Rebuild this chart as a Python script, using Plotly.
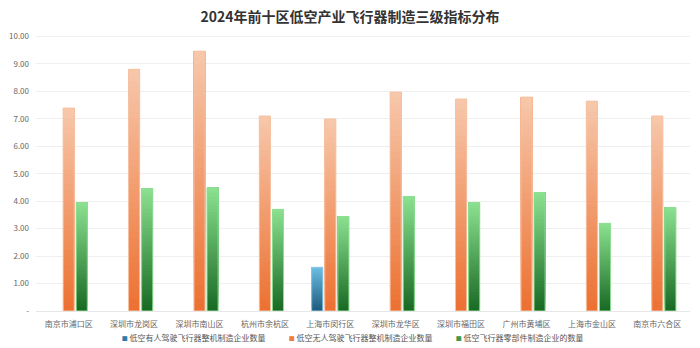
import plotly.graph_objects as go

categories = ["南京市浦口区", "深圳市龙岗区", "深圳市南山区", "杭州市余杭区", "上海市闵行区",
              "深圳市龙华区", "深圳市福田区", "广州市黄埔区", "上海市金山区", "南京市六合区"]
manned = [0, 0, 0, 0, 1.59, 0, 0, 0, 0, 0]
unmanned = [7.39, 8.80, 9.46, 7.10, 6.99, 7.97, 7.72, 7.79, 7.64, 7.10]
parts = [3.95, 4.46, 4.49, 3.70, 3.44, 4.17, 3.95, 4.31, 3.19, 3.77]
series_names = ["低空有人驾驶飞行器整机制造企业数量", "低空无人驾驶飞行器整机制造企业数量", "低空飞行器零部件制造企业的数量"]
y_ticks = [0, 1, 2, 3, 4, 5, 6, 7, 8, 9, 10]
y_ticktext = ["-", "1.00", "2.00", "3.00", "4.00", "5.00", "6.00", "7.00", "8.00", "9.00", "10.00"]

styles = [
    ((28, 90, 125), (110, 190, 228), "#2e7da8", "#8cc9e8"),
    ((236, 112, 48), (247, 200, 172), "#ee7d40", "#f7c2a4"),
    ((24, 104, 34), (140, 226, 145), "#3f9a4a", "#8fdf94"),
]

N = 40
fig = go.Figure()

def mix(a, b, t):
    return "rgb(%d,%d,%d)" % tuple(round(a[i] + (b[i] - a[i]) * t) for i in range(3))

for s, (vals, name, st) in enumerate(zip([manned, unmanned, parts], series_names, styles)):
    bottom, top, legend_col, line_col = st
    for k in range(N):
        t = (k + 0.5) / N
        fig.add_trace(go.Bar(
            x=categories,
            y=[v * (N - k) / N if v else None for v in vals],
            base=[v * k / N if v else None for v in vals],
            offsetgroup=str(s),
            marker=dict(color=mix(bottom, top, t), line=dict(width=0)),
            name=name, legendgroup=name, showlegend=False,
            hoverinfo="skip",
        ))
    fig.add_trace(go.Bar(
        x=categories, y=[v if v else None for v in vals],
        offsetgroup=str(s),
        marker=dict(color="rgba(0,0,0,0)", line=dict(color=line_col, width=1)),
        name=name, legendgroup=name, showlegend=False,
        hovertemplate="%{x}<br>" + name + ": %{y:.2f}<extra></extra>",
    ))
    fig.add_trace(go.Scatter(
        x=[None], y=[None], mode="markers",
        marker=dict(color="rgba(0,0,0,0)", size=1),
        name="<span style='font-size:6px;color:%s'>■</span> %s" % (legend_col, name),
        legendgroup=name, showlegend=True,
    ))

fig.update_layout(
    width=700, height=348,
    margin=dict(l=36, r=10, t=35, b=37, autoexpand=False),
    paper_bgcolor="white", plot_bgcolor="white",
    barmode="group", bargap=0.4, bargroupgap=0.15,
    font=dict(family="Noto Sans CJK SC, sans-serif", size=8, color="#666"),
    title=dict(text="<b>2024年前十区低空产业飞行器制造三级指标分布</b>", x=0.5, xanchor="center",
               y=0.952, yanchor="middle",
               font=dict(size=14, color="#333", family="Noto Sans CJK SC, sans-serif")),
    legend=dict(orientation="h", x=0.453, xanchor="center", yref="container", y=0.028, yanchor="middle",
                font=dict(size=8, color="#555"), traceorder="normal",
                entrywidth=122, entrywidthmode="pixels",
                bgcolor="rgba(0,0,0,0)", itemclick=False, tracegroupgap=0),
    xaxis=dict(showline=True, linecolor="#e6e6e6", ticks="", tickfont=dict(size=8, color="#666"),
               showgrid=False, automargin=False, ticklabelstandoff=5),
    yaxis=dict(range=[0, 10.05], tickvals=y_ticks, ticktext=y_ticktext, showgrid=True,
               gridcolor="#efefef", zeroline=False, tickfont=dict(size=8, color="#666"),
               ticks="", automargin=False, ticklabelstandoff=6),
    hovermode="closest",
)

fig.write_html("out.html")
